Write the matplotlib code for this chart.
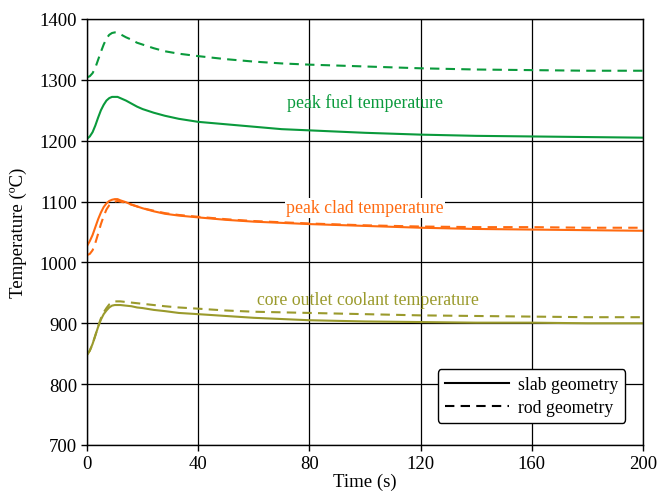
import matplotlib
matplotlib.use('Agg')
import matplotlib.pyplot as plt

# === Data ===
time_s = [0, 1, 2, 3, 4, 5, 6, 7, 8, 9, 10, 11, 12, 14, 16, 18, 20, 24, 28, 33,
          40, 50, 60, 70, 80, 100, 120, 140, 160, 180, 200]

fuel_slab = [1203, 1207, 1214, 1225, 1238, 1250, 1259, 1266, 1270, 1272, 1272, 1272, 1270, 1266, 1261, 1256,
             1252, 1246, 1241, 1236, 1231, 1227, 1223, 1219, 1217, 1213, 1210, 1208, 1207, 1206, 1205]
fuel_rod = [1304, 1306, 1311, 1320, 1333, 1346, 1358, 1368, 1374, 1377, 1378, 1377, 1375, 1370, 1366, 1361,
            1358, 1352, 1347, 1343, 1339, 1334, 1330, 1327, 1325, 1322, 1319, 1317, 1316, 1315, 1315]

clad_slab = [1027, 1035, 1045, 1058, 1071, 1082, 1091, 1097, 1101, 1103, 1104, 1104, 1102, 1099, 1095, 1092,
             1089, 1084, 1080, 1077, 1074, 1070, 1067, 1065, 1063, 1060, 1057, 1055, 1054, 1053, 1052]
clad_rod = [1012, 1014, 1020, 1032, 1047, 1063, 1076, 1087, 1094, 1098, 1100, 1101, 1100, 1098, 1095, 1092,
            1089, 1085, 1081, 1078, 1075, 1071, 1068, 1066, 1064, 1061, 1059, 1058, 1058, 1057, 1057]

cool_slab = [848, 855, 866, 880, 894, 906, 915, 921, 926, 929, 930, 930, 930, 929, 928, 926,
             925, 922, 920, 917, 915, 912, 909, 907, 905, 903, 902, 901, 901, 900, 900]
cool_rod = [848, 855, 866, 880, 895, 908, 918, 925, 931, 934, 936, 936, 936, 935, 934, 933,
            932, 930, 928, 926, 924, 921, 919, 918, 917, 915, 913, 912, 911, 910, 910]

x_ticks = [0, 40, 80, 120, 160, 200]
y_ticks = [700, 800, 900, 1000, 1100, 1200, 1300, 1400]

plt.rcParams['font.family'] = ['Liberation Serif', 'DejaVu Serif']

green = '#0a9a3c'
orange = '#ff6a10'
olive = '#9a9a2c'

fig = plt.figure(figsize=(6.59, 5.02), dpi=100)
ax = fig.add_axes([87 / 659, 1 - 446 / 502, 556 / 659, 426 / 502])

dash = (0, (4.5, 3))
ax.plot(time_s, fuel_slab, color=green, lw=1.5)
ax.plot(time_s, fuel_rod, color=green, lw=1.5, linestyle=dash)
ax.plot(time_s, clad_slab, color=orange, lw=1.5)
ax.plot(time_s, clad_rod, color=orange, lw=1.5, linestyle=dash)
ax.plot(time_s, cool_slab, color=olive, lw=1.5)
ax.plot(time_s, cool_rod, color=olive, lw=1.5, linestyle=dash)

# legend proxies
ax.plot([], [], color='black', lw=1.5, label='slab geometry')
ax.plot([], [], color='black', lw=1.5, linestyle=dash, label='rod geometry')

ax.set_xlim(0, 200)
ax.set_ylim(700, 1400)
ax.set_xticks(x_ticks)
ax.set_yticks(y_ticks)
ax.grid(True, color='black', lw=0.9)
ax.set_axisbelow(True)
for s in ax.spines.values():
    s.set_linewidth(1.0)
ax.tick_params(direction='out', length=4, width=1.0, labelsize=13.5, pad=3)

ax.set_xlabel('Time (s)', fontsize=13.5, labelpad=1)
ax.set_ylabel('Temperature (ºC)', fontsize=13.5, labelpad=9)

ax.text(100, 1264, 'peak fuel temperature', color=green, fontsize=12.8,
        ha='center', va='center')
ax.text(100, 1090, 'peak clad temperature', color=orange, fontsize=12.8,
        ha='center', va='center',
        bbox=dict(facecolor='white', edgecolor='none', pad=1))
ax.text(101, 939, 'core outlet coolant temperature', color=olive, fontsize=12.8,
        ha='center', va='center')

leg = ax.legend(loc='lower right', bbox_to_anchor=(0.968, 0.052), borderaxespad=0,
                fontsize=12.8, frameon=True, fancybox=True, handlelength=3.6,
                labelspacing=0.3, borderpad=0.4, handletextpad=0.5)
leg.get_frame().set_edgecolor('black')
leg.get_frame().set_linewidth(1.0)
leg.get_frame().set_alpha(1)

fig.savefig('out.png', dpi=100)
